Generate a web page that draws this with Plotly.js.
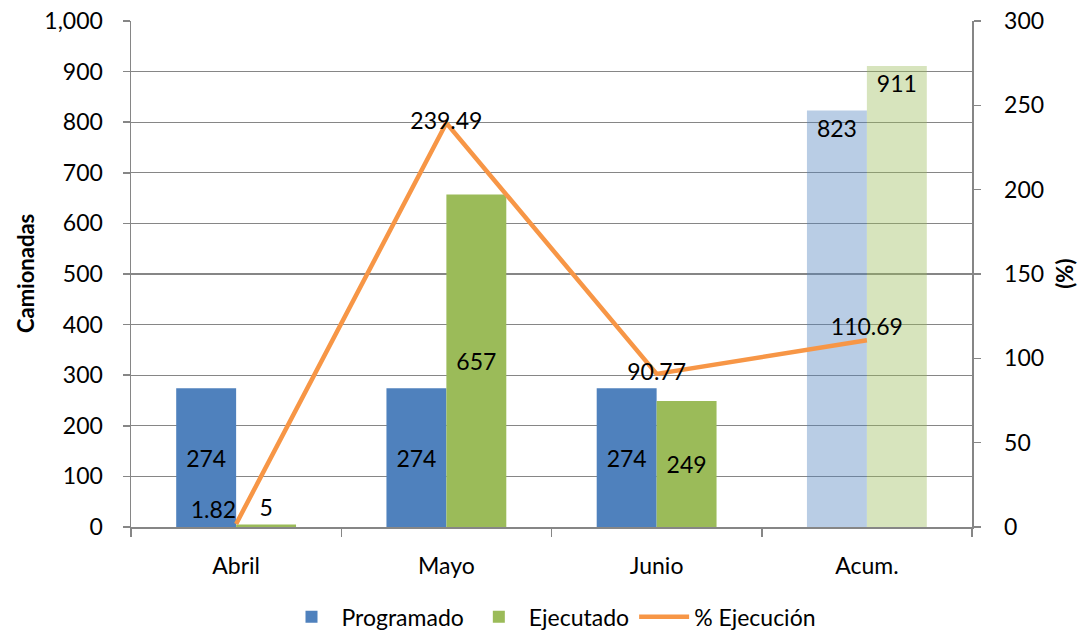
<!DOCTYPE html>
<html>
<head>
<meta charset="utf-8">
<script src="https://cdn.plot.ly/plotly-3.0.1.min.js"></script>
<style>html,body{margin:0;padding:0;background:#fff;}#chart{width:1078px;height:632px;}</style>
</head>
<body>
<div id="chart"></div>
<script>
var categories = ['Abril', 'Mayo', 'Junio'];
var accumCategory = ['Acum.'];
var programado = [274, 274, 274];
var ejecutado = [5, 657, 249];
var programadoAcum = [823];
var ejecutadoAcum = [911];
var allCategories = ['Abril', 'Mayo', 'Junio', 'Acum.'];
var pctEjecucion = [1.82, 239.49, 90.77, 110.69];
var leftTitle = 'Camionadas';
var rightTitle = '(%)';

var FONT = 'Lato, "Open Sans", sans-serif';
var FS = 23;
var txtFont = {family: FONT, size: FS, color: '#000'};

var traces = [
  {
    type: 'bar', name: 'Programado', x: categories, y: programado,
    offsetgroup: 'p', marker: {color: '#4F81BD'},
    text: programado.map(String), textposition: 'inside', insidetextanchor: 'middle',
    insidetextfont: txtFont, outsidetextfont: txtFont, textangle: 0,
    cliponaxis: false, hoverinfo: 'skip'
  },
  {
    type: 'bar', name: 'Ejecutado', x: categories, y: ejecutado,
    offsetgroup: 'e', marker: {color: '#9BBB59'},
    text: ejecutado.map(String), textposition: ['outside', 'inside', 'inside'], insidetextanchor: 'middle',
    insidetextfont: txtFont, outsidetextfont: txtFont, textangle: 0,
    cliponaxis: false, hoverinfo: 'skip'
  },
  {
    type: 'bar', name: 'Programado', x: accumCategory, y: programadoAcum,
    offsetgroup: 'p', showlegend: false, marker: {color: '#4F81BD', opacity: 0.4},
    text: programadoAcum.map(String), textposition: 'inside', insidetextanchor: 'end',
    insidetextfont: txtFont, textangle: 0, hoverinfo: 'skip'
  },
  {
    type: 'bar', name: 'Ejecutado', x: accumCategory, y: ejecutadoAcum,
    offsetgroup: 'e', showlegend: false, marker: {color: '#9BBB59', opacity: 0.4},
    text: ejecutadoAcum.map(String), textposition: 'inside', insidetextanchor: 'end',
    insidetextfont: txtFont, textangle: 0, hoverinfo: 'skip'
  },
  {
    type: 'scatter', mode: 'lines+text', name: '% Ejecución', x: allCategories, y: pctEjecucion,
    yaxis: 'y2', line: {color: '#F79646', width: 4.5},
    text: pctEjecucion.map(function(v){return v.toFixed(2);}),
    textposition: ['top left', 'middle center', 'middle center', 'top center'],
    textfont: txtFont, cliponaxis: false, hoverinfo: 'skip'
  }
];

var titleFont = {family: FONT, size: 22, color: '#000'};

var layout = {
  width: 1078, height: 632,
  margin: {l: 131, r: 106, t: 21, b: 105, autoexpand: false},
  paper_bgcolor: '#fff', plot_bgcolor: '#fff',
  font: {family: FONT, size: FS, color: '#000'},
  barmode: 'group', bargap: 0.43, bargroupgap: 0,
  showlegend: true,
  legend: {orientation: 'h', x: 0.5, xanchor: 'center', xref: 'paper',
           y: 0.024, yref: 'container', yanchor: 'middle',
           font: {family: FONT, size: FS, color: '#000'}, itemwidth: 50, traceorder: 'normal'},
  xaxis: {
    type: 'category', categoryorder: 'array', categoryarray: allCategories,
    showline: true, linecolor: '#868686', linewidth: 1.5,
    ticks: 'outside', tickson: 'boundaries', ticklen: 8, tickcolor: '#868686', tickwidth: 1.5,
    ticklabelstandoff: 18,
    showgrid: false, tickfont: {family: FONT, size: FS, color: '#000'}
  },
  yaxis: {
    range: [0, 1000], dtick: 100, tickformat: ',d',
    showline: true, linecolor: '#868686', linewidth: 1.5,
    ticks: 'outside', ticklen: 7, tickcolor: '#868686', tickwidth: 1.5,
    ticklabelstandoff: 15,
    showgrid: true, gridcolor: '#868686', gridwidth: 1.2, zeroline: false,
    tickfont: {family: FONT, size: FS, color: '#000'}
  },
  yaxis2: {
    overlaying: 'y', side: 'right', range: [0, 300], dtick: 50,
    showline: true, linecolor: '#868686', linewidth: 1.5,
    ticks: 'outside', ticklen: 7, tickcolor: '#868686', tickwidth: 1.5,
    ticklabelstandoff: 19,
    showgrid: false, zeroline: false,
    tickfont: {family: FONT, size: FS, color: '#000'}
  },
  annotations: [
    {text: '<b>' + leftTitle + '</b>', xref: 'paper', yref: 'paper', x: -0.126, y: 0.5,
     xanchor: 'center', yanchor: 'middle', textangle: -90, showarrow: false, font: titleFont},
    {text: '<b>' + rightTitle + '</b>', xref: 'paper', yref: 'paper', x: 1.109, y: 0.5,
     xanchor: 'center', yanchor: 'middle', textangle: -90, showarrow: false, font: titleFont}
  ]
};

Plotly.newPlot('chart', traces, layout, {displayModeBar: false, staticPlot: true});
</script>
</body>
</html>
